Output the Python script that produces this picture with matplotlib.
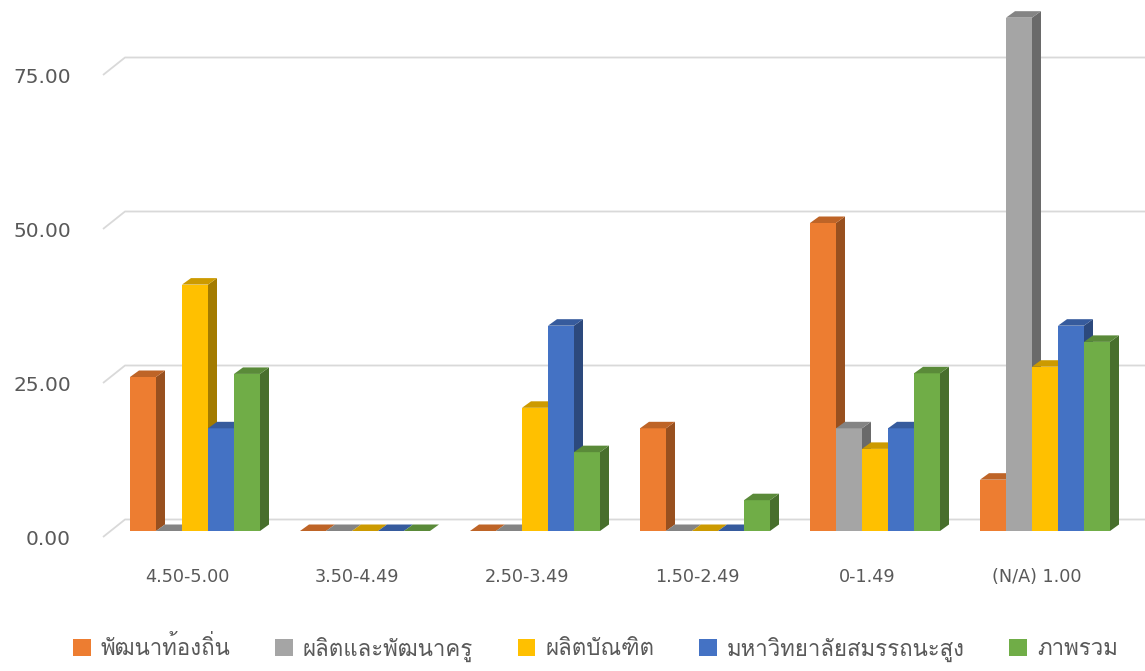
import numpy as np
import matplotlib
matplotlib.use("Agg")
from matplotlib import pyplot as plt
from matplotlib import font_manager, ft2font
from matplotlib.patches import Polygon
import matplotlib.colors as mcolors

# data
categories = ['4.50-5.00', '3.50-4.49', '2.50-3.49', '1.50-2.49', '0-1.49', '(N/A) 1.00']
series_names = ['พัฒนาท้องถิ่น', 'ผลิตและพัฒนาครู', 'ผลิตบัณฑิต',
                'มหาวิทยาลัยสมรรถนะสูง', 'ภาพรวม']
local_dev = [25.00, 0.00, 0.00, 16.67, 50.00, 8.33]
teacher_dev = [0.00, 0.00, 0.00, 0.00, 16.67, 83.33]
graduates = [40.00, 0.00, 20.00, 0.00, 13.33, 26.67]
high_perf = [16.67, 0.00, 33.33, 0.00, 16.67, 33.33]
overall = [25.50, 0.00, 12.80, 5.00, 25.60, 30.70]
yticks = [0, 25, 50, 75]
colors = ['#ED7D31', '#A5A5A5', '#FFC000', '#4472C4', '#70AD47']

values = [local_dev, teacher_dev, graduates, high_perf, overall]


def find_thai_font():
    for f in font_manager.fontManager.ttflist:
        try:
            cm = ft2font.FT2Font(f.fname).get_charmap()
        except Exception:
            continue
        if ord('พ') in cm and ord('ั') in cm:
            return f.name
    return None


thai = find_thai_font()
fams = ['DejaVu Sans'] if thai is None else [thai, 'DejaVu Sans']
plt.rcParams['font.family'] = fams

fig = plt.figure(figsize=(11.45, 6.71), dpi=100)
ax = fig.add_axes([0, 0, 1, 1])
px_x = 170.0   # pixels per group
px_y = 6.16    # pixels per value unit
ax.set_xlim(-195 / px_x, 950 / px_x)
ax.set_ylim(-(671 - 531) / px_y, 531 / px_y)
ax.axis('off')

width = 26 / px_x
dx = 9 / px_x
dy = 6.5 / px_y
wall_dy = 11.5 / px_y
front_dy = -6 / px_y

# back wall gridlines with the little diagonal at the left
for t in yticks:
    ax.plot([-92 / px_x, -70 / px_x, 950 / px_x],
            [t + front_dy, t + wall_dy, t + wall_dy],
            color='#D9D9D9', lw=1.3, zorder=1, solid_capstyle='butt')
    ax.text(-124 / px_x, t - 1.45, '%.2f' % t, ha='right', va='center',
            fontsize=14.5, color='#595959', family='DejaVu Sans')

x = np.arange(len(categories))
z = 2
handles = []
for i, (vals, c) in enumerate(zip(values, colors)):
    xs = x - 2.5 * width + i * width
    rgb = np.array(mcolors.to_rgb(c))
    side = rgb * 0.64
    top = rgb * 0.8
    bars = ax.bar(xs, vals, width=width, align='edge', color=c,
                  linewidth=0, zorder=z, label=series_names[i])
    handles.append(bars)
    for b in bars:
        x0 = b.get_x()
        h = b.get_height()
        x1 = x0 + b.get_width()
        ax.add_patch(Polygon([(x1, 0), (x1 + dx, dy), (x1 + dx, h + dy), (x1, h)],
                             closed=True, fc=side, ec='none', zorder=z))
        ax.add_patch(Polygon([(x0, h), (x1, h), (x1 + dx, h + dy), (x0 + dx, h + dy)],
                             closed=True, fc=top, ec='none', zorder=z))
    z += 1

for i, cat in enumerate(categories):
    ax.text(x[i] - 8 / px_x, -(577 - 531) / px_y, cat, ha='center', va='center',
            fontsize=12.7, color='#595959', family='DejaVu Sans')

leg = fig.legend(handles=handles, labels=series_names, loc='center',
                 bbox_to_anchor=(0.52, (671 - 649) / 671), ncol=5, frameon=False,
                 fontsize=16, handlelength=0.8, handleheight=0.8,
                 handletextpad=0.45, columnspacing=2.0)
for t in leg.get_texts():
    t.set_color('#595959')

fig.savefig('out.png', dpi=100)
